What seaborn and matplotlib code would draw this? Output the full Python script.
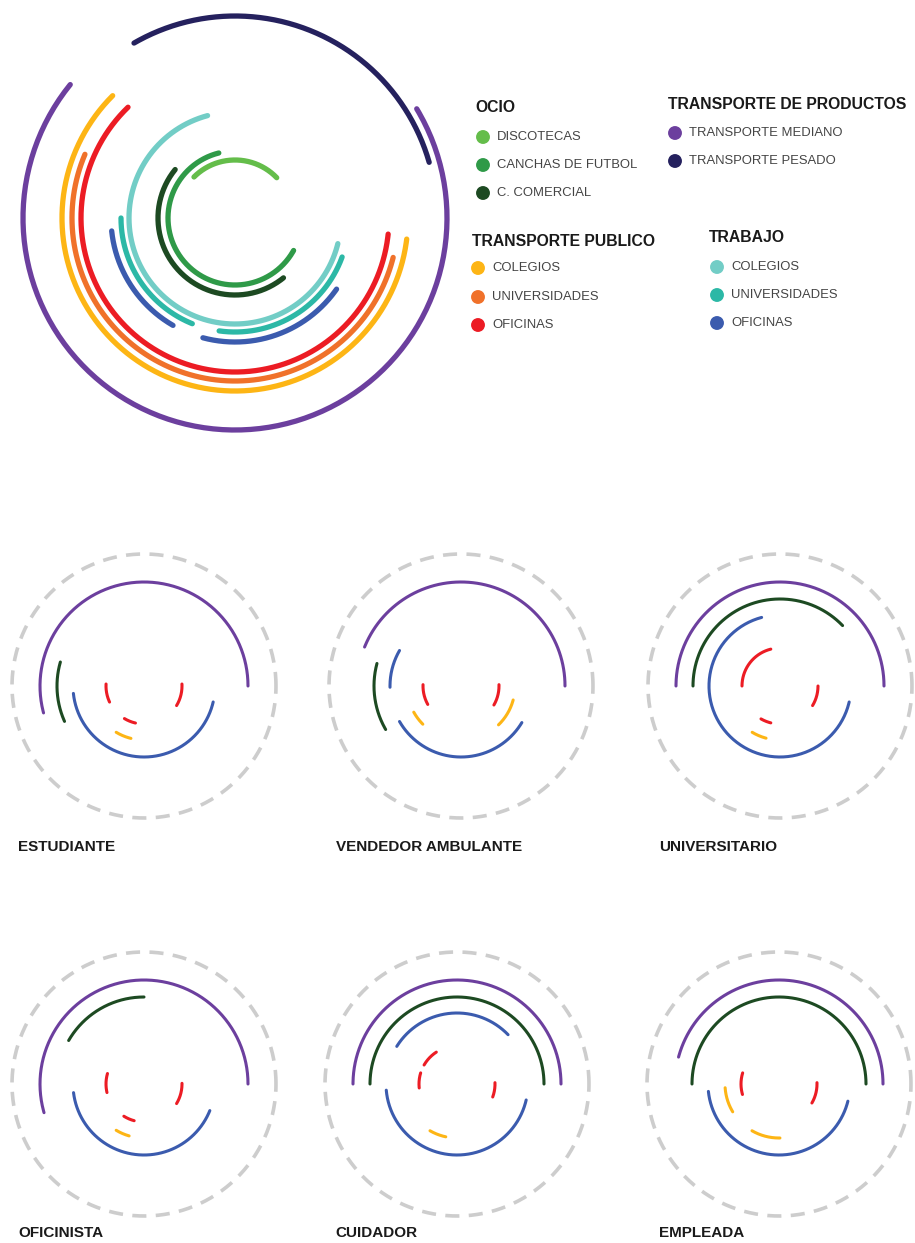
import numpy as np
import pandas as pd
import seaborn as sns
import matplotlib.pyplot as plt

sns.set_theme(style="white")
plt.rcParams['font.family'] = ['Liberation Sans', 'DejaVu Sans']

# series keys, legend labels and colours
series = ["discotecas", "canchas", "comercial", "mediano", "pesado",
          "tp_colegios", "tp_univ", "tp_oficinas", "tr_colegios", "tr_univ", "tr_oficinas"]
labels = ["DISCOTECAS", "CANCHAS DE FUTBOL", "C. COMERCIAL", "TRANSPORTE MEDIANO", "TRANSPORTE PESADO",
          "COLEGIOS", "UNIVERSIDADES", "OFICINAS", "COLEGIOS", "UNIVERSIDADES", "OFICINAS"]
colors = ["#64bd4a", "#2f9a48", "#1d4a22", "#6c3f9e", "#25215e",
          "#fdb515", "#f0712a", "#ec1c24", "#72cdc6", "#2cb8a6", "#3b5bae"]
palette = dict(zip(series, colors))

groups = ["OCIO", "TRANSPORTE DE PRODUCTOS", "TRANSPORTE PUBLICO", "TRABAJO"]
group_members = [["discotecas", "canchas", "comercial"], ["mediano", "pesado"],
                 ["tp_colegios", "tp_univ", "tp_oficinas"], ["tr_colegios", "tr_univ", "tr_oficinas"]]

# big chart: ring radius and arc spans (degrees, counter-clockwise from east)
big_radius = {"discotecas": 58, "canchas": 67, "comercial": 77, "tr_colegios": 106,
              "tr_univ": 114, "tr_oficinas": 124, "tp_oficinas": 154, "tp_univ": 163,
              "tp_colegios": 173, "pesado": 202, "mediano": 212}
big_arcs = {"discotecas": [(44, 135)], "canchas": [(104, 331)], "comercial": [(141, 309)],
            "tr_colegios": [(105, 346)], "tr_univ": [(180, 248), (262, 340)],
            "tr_oficinas": [(186, 240), (255, 325)], "tp_oficinas": [(134, 354)],
            "tp_univ": [(157, 346)], "tp_colegios": [(135, 353)],
            "pesado": [(16, 120)], "mediano": [(141, 391)]}

# small profiles
profiles = ["ESTUDIANTE", "VENDEDOR AMBULANTE", "UNIVERSITARIO", "OFICINISTA", "CUIDADOR", "EMPLEADA"]
small_radius = {"mediano": 104, "comercial": 87, "tr_oficinas": 71, "tp_colegios": 54, "tp_oficinas": 38}
estudiante = {"mediano": [(0, 195)], "comercial": [(164, 204)], "tr_oficinas": [(186, 347)],
              "tp_colegios": [(239, 256)], "tp_oficinas": [(177, 205), (239, 257), (329, 363)]}
vendedor = {"mediano": [(0, 158)], "comercial": [(165, 210)], "tr_oficinas": [(150, 181), (210, 329)],
            "tp_colegios": [(209, 225), (314, 345)], "tp_oficinas": [(178, 209), (330, 362)]}
universitario = {"mediano": [(0, 180)], "comercial": [(44, 180)], "tr_oficinas": [(105, 347)],
                 "tp_colegios": [(239, 255)], "tp_oficinas": [(104, 180), (240, 256), (329, 360)]}
oficinista = {"mediano": [(0, 196)], "comercial": [(90, 150)], "tr_oficinas": [(187, 338)],
              "tp_colegios": [(239, 254)], "tp_oficinas": [(164, 193), (238, 255), (329, 361)]}
cuidador = {"mediano": [(0, 180)], "comercial": [(0, 180)], "tr_oficinas": [(44, 148), (185, 347)],
            "tp_colegios": [(240, 258)], "tp_oficinas": [(123, 150), (163, 186), (340, 362)]}
empleada = {"mediano": [(0, 165)], "comercial": [(0, 180)], "tr_oficinas": [(186, 346)],
            "tp_colegios": [(184, 211), (240, 271)], "tp_oficinas": [(163, 196), (330, 362)]}
profile_arcs = [estudiante, vendedor, universitario, oficinista, cuidador, empleada]


def arcs_to_frame(arcs, radius):
    rows = []
    seg = 0
    for key, spans in arcs.items():
        for a0, a1 in spans:
            th = np.radians(np.linspace(a0, a1, 200))
            for t in th:
                rows.append((t, radius[key], key, seg))
            seg += 1
    return pd.DataFrame(rows, columns=["theta", "r", "serie", "seg"])


def draw_arcs(ax, df, lw):
    sns.lineplot(data=df, x="theta", y="r", hue="serie", units="seg", estimator=None,
                 sort=False, palette=palette, legend=False, lw=lw,
                 solid_capstyle="round", ax=ax)


W, H = 915, 1243
fig = plt.figure(figsize=(W / 100, H / 100), dpi=100)

# overlay in pixel coordinates for the texts
lax = fig.add_axes([0, 0, 1, 1])
lax.set_xlim(0, W)
lax.set_ylim(H, 0)
lax.axis("off")


def polar_axes(cx, cy, half):
    ax = fig.add_axes([(cx - half) / W, (H - cy - half) / H, 2 * half / W, 2 * half / H],
                      projection="polar")
    return ax


# big chart
ax = polar_axes(235, 218, 225)
draw_arcs(ax, arcs_to_frame(big_arcs, big_radius), 3.8)
ax.set_rlim(0, 225)
ax.set_axis_off()

# legend
head_pos = [(475, 107), (668, 104), (472, 241), (709, 237)]
dot_x = [483, 675, 478, 717]
row_y = [[137, 165, 193], [133, 161], [268, 297, 325], [267, 295, 323]]
for g, (hx, hy), dx, ys, members in zip(groups, head_pos, dot_x, row_y, group_members):
    lax.text(hx, hy, g, fontsize=11.3, fontweight="bold", color="#1a1a1a", va="center")
    for y, key in zip(ys, members):
        lax.scatter([dx], [y], s=100, color=palette[key], edgecolor="none")
        lax.text(dx + 14, y, labels[series.index(key)], fontsize=9.4, color="#444444", va="center")

# small profiles
centers = [(144, 686), (461, 686), (780, 686), (144, 1084), (457, 1084), (779, 1084)]
label_pos = [(18, 847), (336, 847), (659, 847), (18, 1233), (335, 1233), (659, 1233)]
ring = np.linspace(0, 2 * np.pi, 400)
for name, arcs, (cx, cy), (tx, ty) in zip(profiles, profile_arcs, centers, label_pos):
    ax = polar_axes(cx, cy, 140)
    ax.plot(ring, np.full_like(ring, 132), color="#cdcdcd", lw=2.6, ls=(0, (3.9, 2.6)))
    draw_arcs(ax, arcs_to_frame(arcs, small_radius), 2.2)
    ax.set_rlim(0, 140)
    ax.set_axis_off()
    lax.text(tx, ty, name, fontsize=11, fontweight="bold", color="#1a1a1a", va="center")

fig.savefig("out.png", dpi=100)
